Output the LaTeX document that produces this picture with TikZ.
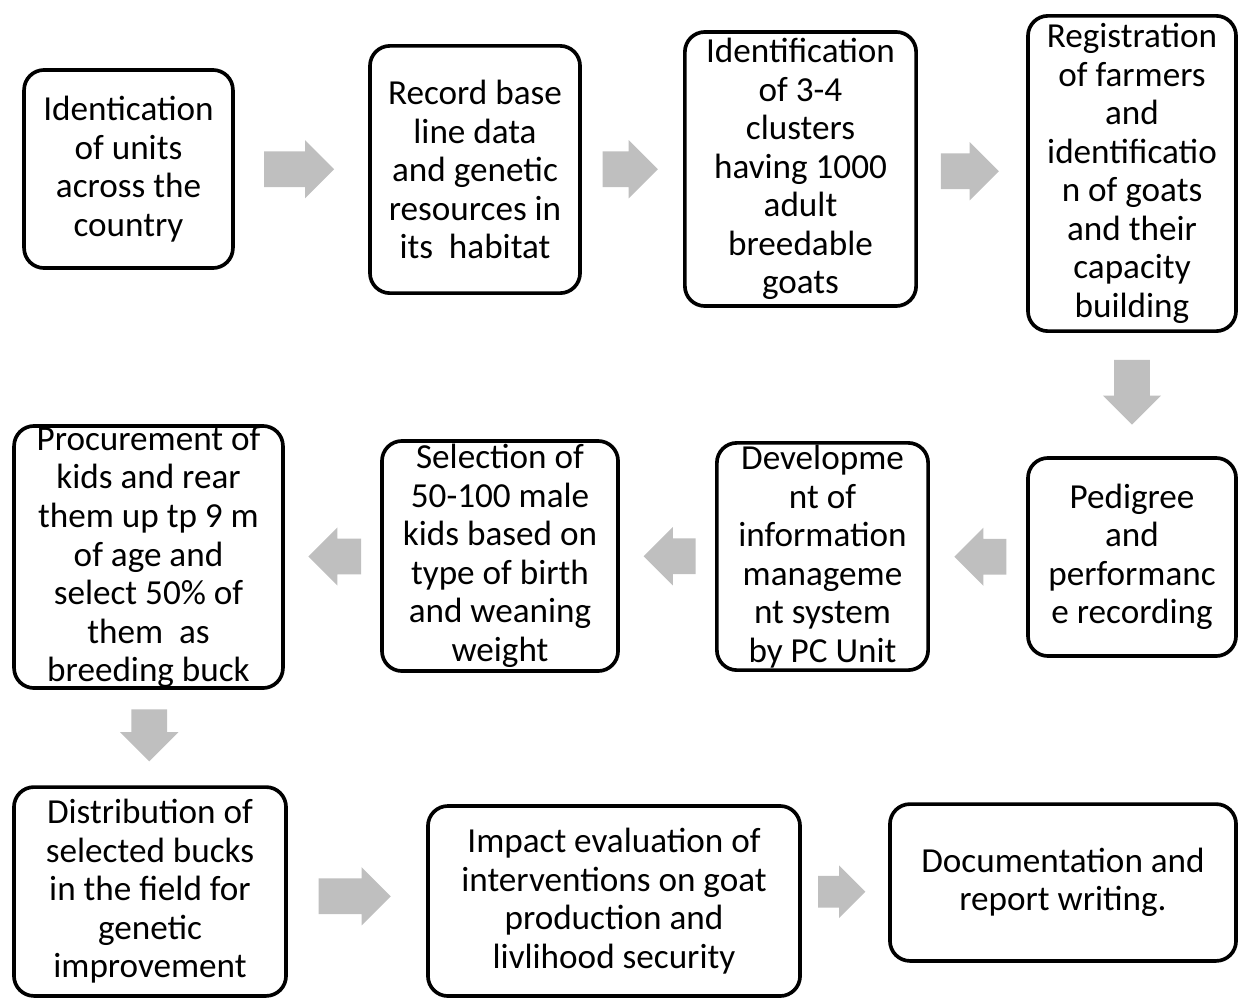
\documentclass[tikz,border=0pt]{standalone}
\usepackage{fontspec}
\setmainfont{Carlito}
\usetikzlibrary{shapes.arrows,calc}

\begin{document}
\begin{tikzpicture}[x=0.025cm,y=-0.025cm,
      box/.style={draw,rounded corners=0.5cm,line width=2.6pt,inner sep=0pt,
        align=center,font=\fontsize{25}{27.4}\selectfont},
      blockarrow/.style={single arrow,fill=black!25,draw=none,inner xsep=0pt,
        inner ysep=0.44cm,single arrow head extend=0.28cm,xshift=-0.28cm},
      toleft/.style={shape border rotate=180,xshift=0.56cm},
      todown/.style={shape border rotate=270,inner xsep=0.44cm,inner ysep=0pt,
        xshift=0.28cm,yshift=0.28cm}]
    \useasboundingbox (0,0) rectangle (1240,1000);
    \node[box,minimum width=5.22cm,minimum height=4.95cm] (id) at (128.5,169)
      {Identication\\of units\\across the\\country};
    \node[box,minimum width=5.25cm,minimum height=6.18cm] (rec) at (475,169.5)
      {Record base\\line data\\and genetic\\resources in\\its\ \ habitat};
    \node[box,minimum width=5.78cm,minimum height=6.85cm] (clus) at (800.5,169)
      {Identification\\of 3-4\\clusters\\having 1000\\adult\\breedable\\goats};
    \node[box,minimum width=5.2cm,minimum height=7.88cm] (reg) at (1132,173.5)
      {Registration\\of farmers\\and\\identificatio\\n of goats\\and their\\capacity\\building};
    \node[box,minimum width=5.2cm,minimum height=4.95cm] (ped) at (1132,557)
      {Pedigree\\and\\performanc\\e recording};
    \node[box,minimum width=5.28cm,minimum height=5.68cm] (info) at (822.5,556.5)
      {Developme\\nt of\\information\\manageme\\nt system\\by PC Unit};
    \node[box,minimum width=5.9cm,minimum height=5.75cm] (sel) at (500,556)
      {Selection of\\50-100 male\\kids based on\\type of birth\\and weaning\\weight};
    \node[box,minimum width=6.72cm,minimum height=6.55cm] (proc) at (148.5,557)
      {Procurement of\\kids and rear\\them up tp 9 m\\of age and\\select 50\% of\\them\ \ as\\breeding buck};
    \node[box,minimum width=6.8cm,minimum height=5.22cm] (dist) at (150,891.5)
      {Distribution of\\selected bucks\\in the field for\\genetic\\improvement};
    \node[box,minimum width=9.3cm,minimum height=4.75cm] (imp) at (614,901)
      {Impact evaluation of\\interventions on goat\\production and\\livlihood security};
    \node[box,minimum width=8.65cm,minimum height=3.92cm] (doc) at (1063,882.5)
      {Documentation and\\report writing.};

    \node[blockarrow,minimum height=1.75cm] (a1) at ($(id.east)!0.5!(rec.west)$) {};
    \node[blockarrow,minimum height=1.38cm] (a2) at ($(rec.east)!0.5!(clus.west)$) {};
    \node[blockarrow,minimum height=1.45cm] (a3) at ($(clus.east)!0.5!(reg.west)$) {};
    \node[blockarrow,todown,minimum height=1.62cm] (a4) at ($(reg.south)!0.5!(ped.north)$) {};
    \node[blockarrow,toleft,minimum height=1.3cm] (a5) at ($(ped.west)!0.5!(info.east)$) {};
    \node[blockarrow,toleft,minimum height=1.3cm] (a6) at ($(info.west)!0.5!(sel.east)$) {};
    \node[blockarrow,toleft,minimum height=1.32cm] (a7) at ($(sel.west)!0.5!(proc.east)$) {};
    \node[blockarrow,todown,minimum height=1.3cm] (a8) at ($(proc.south)!0.5!(dist.north)$) {};
    \node[blockarrow,minimum height=1.8cm] (a9) at ($(dist.east)!0.5!(imp.west)$) {};
    \node[blockarrow,minimum height=1.18cm,inner ysep=0.39cm,single arrow head extend=0.26cm] (a10) at ($(imp.east)!0.5!(doc.west)$) {};
  \end{tikzpicture}
\end{document}
